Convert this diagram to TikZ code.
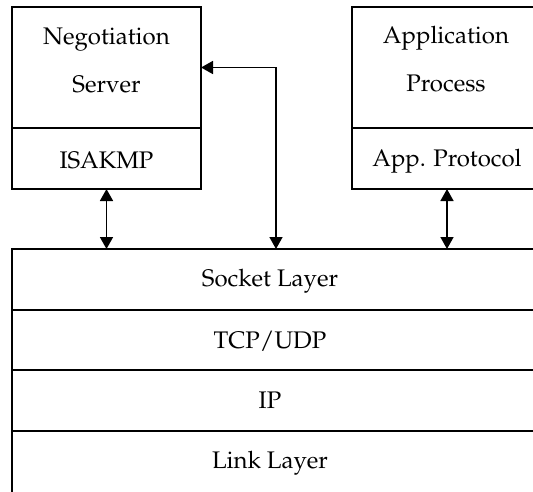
\documentclass[tikz,border=0pt]{standalone}
\usepackage[T1]{fontenc}
\usepackage{mathpazo}
\usetikzlibrary{arrows.meta}
\begin{document}
\begin{tikzpicture}[x=1pt,y=-1pt,
  box/.style={draw, line width=1.6pt, rectangle, inner sep=0pt, outer sep=0pt},
  lbl/.style={anchor=base, font=\fontsize{24}{28}\selectfont, inner sep=0pt},
  dlink/.style={line width=1.6pt, {Triangle[length=12pt,width=13pt]}-{Triangle[length=12pt,width=13pt]}}]
\useasboundingbox (0,0) rectangle (533,491);
\clip (0,0) rectangle (533,491);

% upper boxes
\node[box, minimum width=189pt, minimum height=121pt] (neg)  at (106.5,67.5) {};
\node[box, minimum width=189pt, minimum height=61pt]  (isa)  at (106.5,158.5) {};
\node[box, minimum width=190pt, minimum height=121pt] (app)  at (447,67.5) {};
\node[box, minimum width=190pt, minimum height=61pt]  (appp) at (447,158.5) {};

% protocol stack
\node[box, minimum width=538pt, minimum height=61pt] (sock) at (281,279.5) {};
\node[box, minimum width=538pt, minimum height=60pt] (tcp)  at (281,340) {};
\node[box, minimum width=538pt, minimum height=61pt] (ip)   at (281,400.5) {};
\node[box, minimum width=538pt, minimum height=69pt] (lnk)  at (281,465.5) {};

% labels
\node[lbl] (t1) at (106.5,44) {Negotiation};
\node[lbl] (t2) at (106.5,92) {Server};
\node[lbl] (t3) at (106.5,168) {ISAKMP};
\node[lbl] (t4) at (446,43) {Application};
\node[lbl] (t5) at (446,91) {Process};
\node[lbl] (t6) at (447,166) {App. Protocol};
\node[lbl] (t7) at (270,286) {Socket Layer};
\node[lbl] (t8) at (270,348) {TCP/UDP};
\node[lbl] (t9) at (270,408) {IP};
\node[lbl] (t10) at (270,468) {Link Layer};

% connectors
\coordinate (mid) at (276,0);
\draw[dlink] (isa.south) -- (isa.south |- sock.north);
\draw[dlink] (appp.south) -- (appp.south |- sock.north);
\draw[dlink] (neg.east) -| (sock.north -| mid);
\end{tikzpicture}
\end{document}
